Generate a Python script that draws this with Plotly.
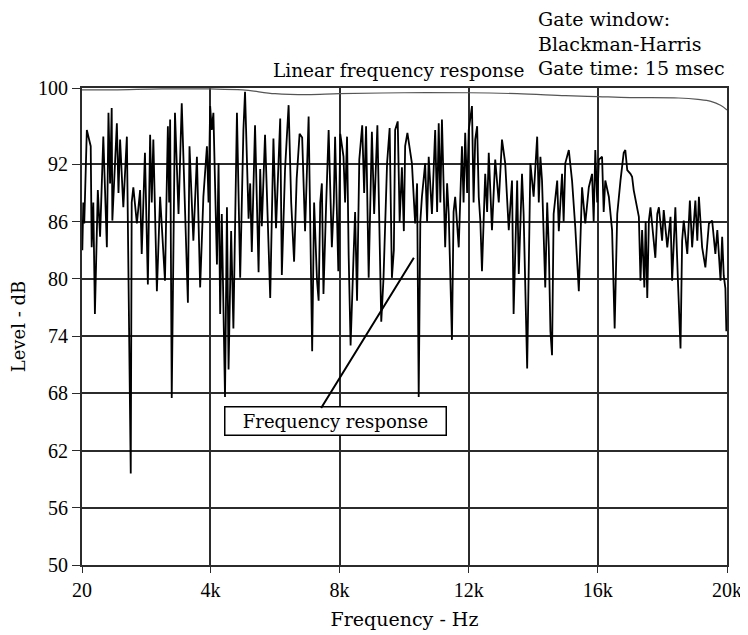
import plotly.graph_objects as go

freq = [30, 60, 90, 170, 240, 290, 320, 370, 420, 510, 580, 680, 790, 840, 890, 940, 960, 1020,
        1100, 1150, 1200, 1300, 1410, 1530, 1560, 1610, 1720, 1820, 1870, 1970, 2060, 2130, 2180,
        2230, 2340, 2440, 2510, 2590, 2680, 2720, 2750, 2800, 2900, 3010, 3110, 3210, 3300, 3350,
        3470, 3580, 3680, 3780, 3890, 3940, 3990, 4040, 4090, 4200, 4250, 4300, 4350, 4450, 4510,
        4560, 4640, 4710, 4820, 4920, 5020, 5070, 5180, 5230, 5280, 5380, 5490, 5540, 5590, 5690,
        5800, 5850, 5950, 6030, 6160, 6210, 6310, 6420, 6500, 6590, 6670, 6760, 6840, 6930, 7040,
        7090, 7150, 7210, 7300, 7350, 7400, 7450, 7500, 7580, 7660, 7760, 7820, 7860, 7960, 8020,
        8120, 8170, 8230, 8280, 8340, 8430, 8480, 8540, 8610, 8700, 8760, 8820, 8900, 9000, 9070,
        9170, 9230, 9290, 9360, 9470, 9550, 9620, 9680, 9720, 9800, 9860, 9930, 9990, 10030, 10100,
        10240, 10340, 10400, 10450, 10500, 10550, 10650, 10710, 10760, 10860, 10960, 11020, 11070,
        11120, 11170, 11270, 11330, 11380, 11480, 11530, 11580, 11690, 11790, 11840, 11890, 11950,
        12000, 12100, 12150, 12200, 12260, 12310, 12360, 12410, 12510, 12570, 12620, 12720, 12820,
        12930, 13030, 13130, 13240, 13340, 13390, 13500, 13550, 13600, 13650, 13700, 13810, 13910,
        14010, 14120, 14170, 14220, 14270, 14370, 14430, 14480, 14530, 14580, 14630, 14740, 14790,
        14890, 14940, 14990, 15100, 15200, 15300, 15410, 15510, 15610, 15720, 15820, 15870, 15920,
        15980, 16030, 16130, 16180, 16230, 16340, 16440, 16520, 16600, 16700, 16800, 16850, 16910,
        17010, 17060, 17110, 17220, 17270, 17320, 17370, 17440, 17480, 17530, 17580, 17630, 17730,
        17780, 17840, 17890, 17990, 18040, 18150, 18250, 18300, 18400, 18480, 18560, 18610, 18660,
        18770, 18850, 18920, 19020, 19080, 19130, 19230, 19330, 19440, 19540, 19640, 19700, 19800,
        19850, 19900, 19950, 19980, 20000]
level = [83.0, 88.0, 85.8, 95.6, 94.6, 93.9, 83.3, 88.0, 76.3, 89.3, 84.4, 94.9, 83.3, 97.4, 90.0, 97.9, 86.1, 90.3,
         96.3, 89.0, 94.6, 87.5, 94.9, 59.6, 88.0, 89.6, 85.8, 89.3, 82.6, 93.2, 79.4, 95.1, 88.0,
         94.6, 78.7, 88.6, 84.4, 79.8, 96.0, 88.0, 96.7, 67.5, 97.4, 86.8, 98.4, 88.6, 77.5, 93.9,
         84.0, 92.8, 79.1, 88.6, 93.9, 88.0, 98.1, 95.6, 97.4, 81.5, 92.1, 76.3, 86.8, 67.6, 87.5,
         70.5, 85.0, 74.8, 97.4, 80.1, 95.6, 99.6, 86.3, 90.0, 82.8, 96.1, 80.7, 91.5, 85.5, 95.1,
         83.2, 78.0, 94.7, 85.3, 96.8, 80.4, 91.5, 98.2, 88.0, 81.8, 90.5, 95.2, 94.8, 85.0, 97.0,
         85.6, 72.4, 88.0, 79.8, 77.7, 88.0, 90.0, 78.4, 87.5, 95.6, 83.3, 88.0, 94.9, 80.8, 95.2,
         92.8, 88.0, 94.9, 82.5, 73.0, 82.2, 87.0, 77.7, 92.5, 96.1, 89.0, 96.0, 80.1, 95.4, 86.8,
         96.1, 84.5, 75.5, 80.1, 92.1, 95.8, 80.1, 83.0, 95.6, 96.5, 86.0, 91.7, 85.0, 93.9, 95.3,
         92.1, 85.8, 90.0, 67.6, 86.0, 88.6, 92.1, 86.0, 92.8, 86.8, 95.6, 87.0, 96.3,
         88.0, 96.7, 83.3, 90.0, 86.8, 73.6, 87.0, 88.6, 83.3, 93.9, 88.0, 95.3, 89.0,
         95.6, 98.1, 88.0, 94.6, 96.0, 88.6, 86.0, 80.8, 91.0, 87.0, 93.2, 85.1, 92.5,
         88.0, 94.6, 92.1, 85.1, 90.3, 76.3, 90.3, 80.5, 86.8, 91.0, 86.8, 70.6, 92.1,
         88.6, 94.9, 88.0, 92.8, 90.3, 79.1, 88.0, 83.3, 74.5, 72.0, 86.8, 90.3, 85.0,
         91.0, 86.0, 92.1, 93.5, 90.3, 85.4, 78.7, 89.6, 85.8, 89.6, 91.0, 86.0, 93.5,
         88.0, 92.5, 92.8, 87.0, 90.3, 88.6, 85.1, 74.8, 86.8, 90.3, 93.2, 93.5, 91.4,
         91.0, 90.7, 89.3, 87.5, 86.5, 79.8, 85.1, 79.1, 86.0, 78.0, 86.1, 87.5, 84.0,
         82.2, 86.8, 87.5, 84.0, 87.2, 83.3, 86.5, 79.8, 87.5, 79.8, 72.7, 84.0, 86.1,
         82.6, 88.2, 83.3, 88.2, 84.0, 88.6, 83.3, 81.2, 85.8, 86.1, 82.6, 85.1, 79.8,
         84.4, 80.3, 79.0, 74.5, 75.5]

# linear (ungated) response along the top
lin_freq = [20, 1000, 2500, 4000, 5000, 6000, 7000, 8000, 10000, 12000, 13500, 15000, 16000,
            17000, 18500, 19100, 19500, 19800, 20000]
lin_level = [99.8, 99.8, 99.9, 99.9, 99.8, 99.4, 99.3, 99.4, 99.5, 99.5, 99.4, 99.2, 99.1,
             99.0, 98.95, 98.8, 98.6, 98.2, 97.7]

y_ticks = [50, 56, 62, 68, 74, 80, 86, 92, 100]
x_ticks = [20, 4000, 8000, 12000, 16000, 20000]
x_labels = ["20", "4k", "8k", "12k", "16k", "20k"]

NUM_FONT = "Liberation Serif"
TXT_FONT = "DejaVu Serif"
GRID = "#2b2b2b"

fig = go.Figure()
fig.add_trace(go.Scatter(x=lin_freq, y=lin_level, mode="lines", line=dict(color="#555", width=1.2),
                         line_shape="spline", hoverinfo="skip"))
fig.add_trace(go.Scatter(x=freq, y=level, mode="lines", line=dict(color="black", width=1.8)))

# callout box + leader line
fig.add_annotation(x=7860, y=65.1, text="Frequency response", showarrow=False,
                   font=dict(family=TXT_FONT, size=18, color="black"),
                   bordercolor="black", borderwidth=1.5, bgcolor="white",
                   width=218, height=25)
fig.add_annotation(x=10300, y=82.2, ax=7400, ay=66.3, axref="x", ayref="y", text="",
                   showarrow=True, arrowhead=0, arrowwidth=2, arrowcolor="black")

# header texts (plot area is 477 px tall, bottom at page y=565)
fig.add_annotation(x=(398 - 82) / 645, y=(565 - 70) / 477, xref="paper", yref="paper",
                   text="Linear frequency response", showarrow=False, yanchor="middle",
                   font=dict(family=TXT_FONT, size=18.5, color="black"))
fig.add_annotation(text="Gate window:<br>Blackman-Harris<br>Gate time: 15 msec",
                   xref="paper", yref="paper", x=(536 - 82) / 645, xanchor="left",
                   y=(565 - 6) / 477, yanchor="top", showarrow=False, align="left",
                   font=dict(family=TXT_FONT, size=19, color="black"))

# page body has an 8px margin: shrink the figure by 8px and shift the left/top margins
fig.update_layout(
    width=740, height=627,
    margin=dict(l=74, r=21, t=80, b=70),
    paper_bgcolor="white", plot_bgcolor="white",
    showlegend=False,
    font=dict(family=NUM_FONT, size=20, color="black"),
)
fig.update_xaxes(range=[20, 20000], tickvals=x_ticks, ticktext=x_labels,
                 showgrid=True, gridcolor=GRID, gridwidth=1.5,
                 showline=True, linecolor=GRID, linewidth=2, mirror=True,
                 ticks="outside", ticklen=6, tickcolor=GRID, automargin=False,
                 title=dict(text="Frequency - Hz", font=dict(family=TXT_FONT, size=19), standoff=13),
                 zeroline=False)
fig.update_yaxes(range=[50, 100], tickvals=y_ticks,
                 showgrid=True, gridcolor=GRID, gridwidth=1.5,
                 showline=True, linecolor=GRID, linewidth=2, mirror=True,
                 ticks="outside", ticklen=8, tickcolor=GRID, automargin=False,
                 title=dict(text="Level - dB", font=dict(family=TXT_FONT, size=18), standoff=12),
                 zeroline=False)

fig.write_html("out.html")
